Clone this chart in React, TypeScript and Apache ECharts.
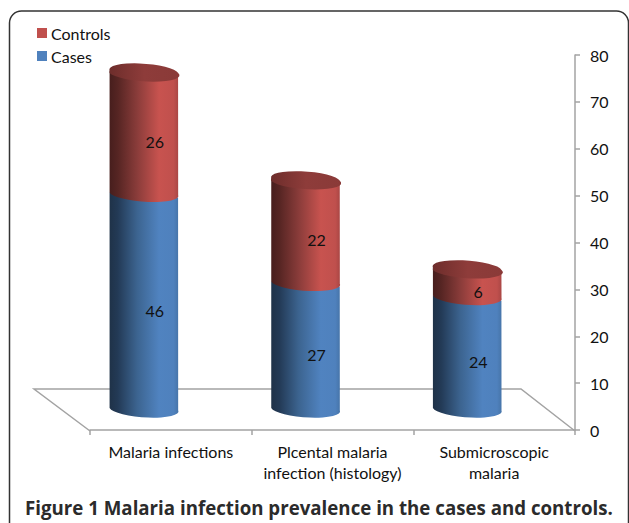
import React, { useEffect, useRef } from "react";
import * as echarts from "echarts";

const categories = ["Malaria infections", "Plcental malaria\ninfection (histology)", "Submicroscopic\nmalaria"];
const cases = [46, 27, 24];
const controls = [26, 22, 6];
const yTicks = { min: 0, max: 80, interval: 10 };

const ramp = (stops: [number, string][]) => ({
  type: "linear", x: 0, y: 0, x2: 1, y2: 0,
  colorStops: stops.map(([offset, color]) => ({ offset, color })),
});
const blueSide = ramp([[0, "#1f3248"], [0.12, "#233a56"], [0.4, "#3c6490"], [0.72, "#5083c0"], [0.93, "#4f81bd"], [1, "#4674a8"]]);
const redSide = ramp([[0, "#471e1d"], [0.12, "#562523"], [0.4, "#8a3c3a"], [0.72, "#c8534f"], [0.93, "#c0504d"], [1, "#a84644"]]);
const redTop = ramp([[0, "#6d2d2b"], [0.5, "#8e3c3a"], [1, "#8a3a38"]]);

const DX = -27, DY = -22, W = 68.5, TILT = 5, RY = 8;

function cylinder(side: any, withTop: boolean) {
  return (_p: any, api: any) => {
    const cat = api.value(0);
    const base = api.coord([cat, api.value(1)]);
    const top = api.coord([cat, api.value(2)]);
    const cx = base[0] + DX;
    const l = cx - W / 2, r = cx + W / 2;
    const yb = base[1] + DY, yt = top[1] + DY;
    const rx = Math.hypot(W, TILT) / 2;
    const rot = (Math.atan2(TILT, W) * 180) / Math.PI;
    const children: any[] = [
      {
        type: "path",
        shape: {
          pathData: `M${l} ${yt}L${l} ${yb}A${rx} ${RY} ${rot} 0 0 ${r} ${yb + TILT}L${r} ${yt + TILT}Z`,
          layout: "none",
        },
        style: { fill: side, stroke: "none", lineWidth: 0 },
      },
    ];
    if (withTop) {
      children.push({
        type: "path",
        shape: {
          pathData: `M${l} ${yt}A${rx} ${RY} ${rot} 0 1 ${r} ${yt + TILT}A${rx} ${RY} ${rot} 0 1 ${l} ${yt}Z`,
          layout: "none",
        },
        style: { fill: redTop, stroke: "none", lineWidth: 0 },
      });
    }
    children.push({
      type: "text",
      style: {
        text: String(api.value(2) - api.value(1)),
        x: cx + 11,
        y: (yb + yt) / 2 + 10,
        align: "center",
        verticalAlign: "middle",
        fill: "#111",
        font: "16px Lato",
      },
    });
    return { type: "group", children };
  };
}

export default function App() {
  const ref = useRef<HTMLDivElement>(null);
  useEffect(() => {
    document.body.style.margin = "0";
    const chart = echarts.init(ref.current!, undefined, { renderer: "svg" });
    const casesData = cases.map((v, i) => [i, 0, v]);
    const controlsData = controls.map((v, i) => [i, cases[i], cases[i] + v]);
    chart.setOption({
      animation: false,
      backgroundColor: "#fff",
      grid: { left: 90, right: 54, top: 55, bottom: 93 },
      legend: {
        data: ["Controls", "Cases"],
        orient: "vertical",
        left: 32,
        top: 20,
        itemWidth: 10,
        itemHeight: 10,
        itemGap: 7,
        icon: "rect",
        textStyle: { fontFamily: "Lato", fontSize: 16, color: "#111", padding: [0, 0, 0, -1] },
      },
      title: {
        text: "Figure 1 Malaria infection prevalence in the cases and controls.",
        left: 20,
        top: 493,
        textStyle: { fontFamily: "Open Sans", fontWeight: "bold", fontSize: 18.7, color: "#2b2b2b" },
      },
      xAxis: {
        type: "category",
        data: categories,
        axisLine: { lineStyle: { color: "#a3a3a3", width: 1.5 } },
        axisTick: { show: true, length: 5, alignWithLabel: false, lineStyle: { color: "#a3a3a3", width: 1.5 } },
        axisLabel: { fontFamily: "Lato", fontSize: 16, color: "#111", margin: 11, lineHeight: 21, interval: 0 },
      },
      yAxis: {
        type: "value",
        position: "right",
        ...yTicks,
        splitLine: { show: false },
        axisLine: { show: true, lineStyle: { color: "#a3a3a3", width: 1.5 } },
        axisTick: { show: true, length: 5, lineStyle: { color: "#a3a3a3", width: 1.5 } },
        axisLabel: { fontFamily: "Lato", fontSize: 16, color: "#111", margin: 15 },
      },
      graphic: [
        {
          type: "polyline",
          silent: true,
          z: 0,
          shape: { points: [[90, 431], [34, 389], [521, 389], [575, 431]] },
          style: { fill: "none", stroke: "#a3a3a3", lineWidth: 1.5 },
        },
        {
          type: "rect",
          silent: true,
          z: 0,
          shape: { x: 9.5, y: 11, width: 619, height: 540, r: 12 },
          style: { fill: "none", stroke: "#333", lineWidth: 1.5 },
        },
      ],
      series: [
        {
          name: "Cases",
          type: "custom",
          itemStyle: { color: "#4f81bd" },
          data: casesData,
          encode: { x: 0, y: [1, 2] },
          renderItem: cylinder(blueSide, false),
        },
        {
          name: "Controls",
          type: "custom",
          itemStyle: { color: "#c0504d" },
          data: controlsData,
          encode: { x: 0, y: [1, 2] },
          renderItem: cylinder(redSide, true),
        },
      ],
    });
    return () => chart.dispose();
  }, []);
  return <div ref={ref} style={{ width: 629, height: 523 }} />;
}
